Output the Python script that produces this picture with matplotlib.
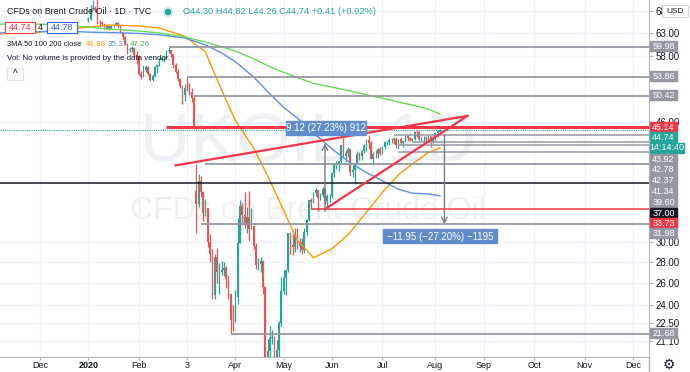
import matplotlib
matplotlib.use('Agg')
import matplotlib.pyplot as plt
from matplotlib.patches import Rectangle, Circle
import numpy as np
import pandas as pd

plt.rcParams['font.family'] = ['Liberation Sans', 'DejaVu Sans']

# trading calendar used by the chart
holidays = ['2019-12-25', '2020-01-01', '2020-04-10']
days = pd.bdate_range('2019-11-01', '2020-12-31')
days = days[~days.isin(pd.to_datetime(holidays))]

def pos(d):
    return int(days.searchsorted(pd.Timestamp(d)))

# daily candles, first bar 2020-01-02, open = previous close unless listed in gap_opens
first_bar = '2020-01-02'
closes = [
    66.25, 68.60, 68.91, 68.27, 65.44, 65.37, 64.98, 64.20, 64.49, 64.00, 64.62, 64.85, 65.20, 64.59, 63.21, 62.04, 60.69, 59.32, 59.51, 59.81, 58.29, 58.16,
    54.45, 53.96, 55.28, 55.93, 54.47, 53.27, 54.01, 55.79, 56.34, 57.32, 57.67, 57.75, 59.12, 59.31, 58.50, 56.30, 54.95, 53.43, 52.18, 50.52,
    51.90, 51.86, 51.13, 49.99, 45.27, 34.36, 37.22, 35.79, 33.22, 33.85, 30.05, 28.73, 24.88, 28.47, 26.98, 27.03, 27.15, 27.39, 26.34, 24.93, 22.76, 22.74,
    24.74, 29.94, 34.11, 33.05, 31.87, 32.84, 31.48, 31.74, 29.60, 27.69, 27.82, 28.08, 25.57, 19.33, 20.37, 21.33, 21.44, 19.99, 20.46, 22.54, 25.27,
    26.44, 27.20, 30.97, 29.72, 29.46, 30.97, 29.63, 29.98, 29.19, 31.13, 32.50, 34.81, 34.65, 35.75, 36.06, 35.13, 35.50, 36.17, 34.74, 35.29, 35.33,
    38.32, 39.57, 39.79, 39.99, 42.30, 40.80, 41.18, 41.73, 38.55, 38.73, 39.72, 40.96, 40.71, 41.51, 42.19, 43.08, 42.63, 40.31, 41.05, 41.02, 41.71, 41.15,
    42.03, 42.80, 42.80, 43.10, 43.08, 43.29, 42.35, 43.24, 42.72, 42.90, 43.79, 43.37, 43.14, 43.28, 44.32, 44.29, 43.31, 43.34, 43.41, 43.22, 43.75, 42.94, 43.30,
    44.15, 44.43, 44.74]
highs = [
    66.6, 69.5, 70.7, 69.3, 71.7, 66.0, 65.8, 65.0, 64.8, 64.6, 64.9, 65.1, 65.6, 65.4, 64.8, 63.4, 62.4, 60.8, 60.0, 60.1, 60.0, 59.0,
    58.2, 55.1, 56.2, 56.2, 56.0, 54.6, 54.4, 56.0, 56.5, 57.6, 57.8, 58.0, 59.3, 59.98, 59.4, 58.5, 56.7, 55.4, 53.8, 52.3,
    52.6, 53.86, 52.7, 51.8, 50.42, 39.6, 38.2, 37.9, 36.0, 35.0, 33.9, 30.9, 29.3, 28.8, 29.4, 27.9, 28.1, 28.0, 27.6, 26.7, 25.0, 24.0,
    25.3, 32.7, 34.9, 34.5, 35.8, 34.0, 36.0, 33.9, 31.8, 29.9, 28.4, 28.5, 28.2, 25.7, 21.3, 22.3, 22.0, 21.5, 21.2, 22.7, 26.5,
    27.2, 27.2, 31.0, 31.1, 30.9, 31.5, 31.5, 30.5, 30.5, 31.5, 32.6, 34.9, 35.1, 35.9, 36.4, 36.1, 35.7, 36.5, 36.4, 35.6, 35.6,
    38.5, 39.7, 40.0, 40.0, 42.4, 43.4, 41.6, 42.0, 41.8, 39.5, 39.8, 41.5, 41.3, 41.6, 42.5, 43.2, 43.9, 43.0, 41.3, 41.6, 41.9, 42.0,
    42.2, 43.0, 43.0, 43.4, 43.4, 43.5, 43.6, 43.3, 43.6, 43.0, 43.9, 43.9, 43.6, 43.4, 44.5, 44.6, 44.5, 43.6, 43.7, 43.7, 43.9, 43.8, 43.5,
    44.2, 44.6, 44.82]
lows = [
    65.6, 66.0, 68.3, 67.8, 65.0, 64.3, 64.7, 63.8, 63.9, 63.6, 63.9, 64.3, 64.6, 64.2, 63.0, 61.6, 60.4, 58.5, 58.8, 58.9, 57.9, 56.5,
    54.2, 53.5, 53.9, 54.8, 54.3, 53.1, 53.2, 53.9, 54.7, 56.1, 57.0, 56.9, 57.6, 58.6, 57.9, 55.6, 54.6, 53.2, 51.8, 48.9,
    49.5, 51.3, 50.6, 49.4, 45.14, 31.0, 34.0, 35.2, 32.3, 32.9, 29.5, 28.0, 24.5, 24.5, 26.0, 25.0, 26.7, 26.6, 25.5, 24.5, 21.68, 21.9,
    22.6, 24.1, 29.9, 31.9, 31.5, 31.0, 30.1, 31.4, 29.3, 27.3, 27.2, 27.0, 25.0, 18.7, 15.98, 19.9, 20.9, 19.8, 19.5, 19.6, 22.3,
    25.0, 24.9, 27.0, 28.8, 28.7, 29.0, 29.3, 29.0, 28.8, 28.9, 30.8, 32.4, 33.9, 34.5, 35.3, 33.5, 34.9, 35.2, 34.3, 33.8, 34.6,
    35.1, 37.8, 38.9, 38.6, 39.8, 40.5, 39.9, 40.6, 38.0, 37.8, 36.9, 39.6, 40.1, 40.2, 41.2, 41.5, 41.8, 40.3, 39.5, 40.5, 40.4, 40.9,
    41.0, 41.8, 42.4, 42.4, 42.6, 42.5, 41.9, 41.8, 42.5, 42.1, 42.8, 43.0, 43.0, 42.8, 43.1, 43.6, 43.1, 42.9, 42.9, 42.8, 42.9, 42.0, 42.7,
    43.1, 43.6, 44.26]
gap_opens = {'2020-01-02': 66.0, '2020-03-09': 36.0, '2020-08-05': 44.30}

# moving averages
ma_dates = ['2019-11-06', '2019-12-02', '2019-12-16', '2020-01-02', '2020-01-15', '2020-02-03', '2020-02-14', '2020-03-02',
            '2020-03-13', '2020-03-24', '2020-04-01', '2020-04-14', '2020-04-22', '2020-05-01', '2020-05-11', '2020-05-20',
            '2020-06-01', '2020-06-10', '2020-06-19', '2020-07-01', '2020-07-10', '2020-07-20', '2020-07-29', '2020-08-05']
ma50 = [62.8, 63.2, 63.7, 64.35, 64.8, 64.6, 64.1, 62.3, 58.9, 51.5, 46.2, 41.9, 38.0, 33.6, 30.2, 28.4,
        29.3, 30.8, 33.0, 35.8, 38.1, 39.6, 41.25, 41.88]
ma100 = [63.0, 63.3, 63.45, 63.2, 63.1, 62.9, 62.6, 61.9, 60.4, 58.7, 56.9, 53.9, 51.2, 48.4, 46.6, 44.2,
         41.8, 40.0, 38.6, 37.3, 36.2, 35.7, 35.6, 35.37]
ma200 = [65.0, 65.0, 64.8, 64.35, 63.9, 63.45, 63.0, 62.1, 61.0, 60.0, 59.1, 57.5, 56.1, 54.8, 53.8, 52.7,
         52.0, 51.4, 50.7, 50.0, 49.3, 48.8, 48.1, 47.26]

# drawn horizontal levels: price, start date (None = full width), colour, width
levels = [59.98, 53.86, 50.42, 45.14, 43.92, 42.78, 42.37, 41.34, 39.60, 37.00, 33.73, 31.98, 21.68]
level_start = ['2020-02-20', '2020-03-03', '2020-03-06', '2020-02-19', '2020-07-08', '2020-07-20', '2020-07-10',
               '2020-07-10', '2020-03-13', None, '2020-05-19', '2020-03-11', '2020-03-30']
level_color = ['#9598a1'] * 3 + ['#f23645'] + ['#9598a1'] * 5 + ['#131722', '#f23645', '#9598a1', '#9598a1']
level_lw = [1.3, 1.3, 1.3, 2.2, 1.1, 1.1, 1.1, 1.1, 1.3, 1.1, 1.1, 1.3, 1.3]

# rising wedge (date, price)
wedge_upper = [('2020-02-25', 39.4), ('2020-08-21', 46.95)]
wedge_lower = [('2020-05-27', 33.73), ('2020-08-21', 46.95)]

# price range measurements
measures = [('2020-05-27', 33.49, 42.61, '9.12 (27.23%) 912'),
            ('2020-08-07', 43.92, 31.97, '\u221211.95 (\u221227.20%) \u22121195')]

month_ticks = ['2019-12-02', '2020-01-02', '2020-02-03', '2020-03-03', '2020-04-01', '2020-05-01', '2020-06-01',
               '2020-07-01', '2020-08-03', '2020-09-01', '2020-10-01', '2020-11-02', '2020-12-01']
month_labels = ['Dec', '2020', 'Feb', '3', 'Apr', 'May', 'Jun', 'Jul', 'Aug', 'Sep', 'Oct', 'Nov', 'Dec']
price_ticks = [21.10, 22.50, 24.00, 26.00, 28.00, 30.00, 46.00, 58.00, 63.00, 68.00]

UP, DN = '#26a69a', '#ef5350'
W, H = 690, 372
PW, PH = 649, 357
px_per_bar = 2.298

fig = plt.figure(figsize=(W / 100, H / 100), dpi=100)
ax = fig.add_axes([0, (H - PH) / H, PW / W, PH / H])
ax.set_yscale('log')
ax.set_ylim(19.97, 70.82)
x0 = pos('2019-12-02')
ax.set_xlim(x0 - 40 / px_per_bar, x0 + (PW - 40) / px_per_bar)

# grid
for d in month_ticks:
    ax.axvline(pos(d), color='#f0f3fa', lw=1, zorder=0)
for p in price_ticks:
    ax.axhline(p, color='#f0f3fa', lw=1, zorder=0)

# watermark
ax.text(0.475, 0.60, 'UKOIL, 1D', transform=ax.transAxes, ha='center', va='center',
        fontsize=50, color='#eef0f3', zorder=0.5)
ax.text(0.475, 0.41, 'CFDs on Brent Crude Oil', transform=ax.transAxes, ha='center', va='center',
        fontsize=23, color='#eef0f3', zorder=0.5)

# candles
n = len(closes)
start = pos(first_bar)
xs = np.arange(start, start + n)
opens = [closes[0]] + closes[:-1]
for i in range(n):
    key = str(days[start + i].date())
    if key in gap_opens:
        opens[i] = gap_opens[key]
o = np.array(opens)
c = np.array(closes)
cols = [UP if c[i] >= o[i] else DN for i in range(n)]
ax.vlines(xs, lows, highs, colors=cols, lw=0.9, zorder=3)
ax.bar(xs, np.abs(c - o), bottom=np.minimum(o, c), width=0.7, color=cols, lw=0, zorder=3)

# moving averages
mx = [pos(d) for d in ma_dates]
ax.plot(mx, ma50, color='#ff9800', lw=1, zorder=4)
ax.plot(mx, ma100, color='#5b8ff0', lw=1, zorder=4)
ax.plot(mx, ma200, color='#66dd55', lw=1, zorder=4)

# levels
xmin, xmax = ax.get_xlim()
for p, s, col, lw in zip(levels, level_start, level_color, level_lw):
    xa = xmin if s is None else pos(s)
    ax.plot([xa, xmax], [p, p], color=col, lw=lw, zorder=5, solid_capstyle='butt')
ax.axhline(closes[-1], color=UP, lw=0.8, ls=(0, (1, 1)), zorder=2)

# wedge
for seg in (wedge_upper, wedge_lower):
    ax.plot([pos(seg[0][0]), pos(seg[1][0])], [seg[0][1], seg[1][1]], color='#f23645', lw=1.6, zorder=6)

# measurements
for d, p0, p1, txt in measures:
    ax.annotate('', xy=(pos(d), p1), xytext=(pos(d), p0),
                arrowprops=dict(arrowstyle='->', color='#787b86', lw=1, shrinkA=0, shrinkB=0), zorder=6)

ax.set_xticks([pos(d) for d in month_ticks])
ax.set_xticklabels(month_labels)
for lab in ax.get_xticklabels():
    if lab.get_text() == '2020':
        lab.set_fontweight('bold')
ax.tick_params(axis='x', length=2, color='#b2b5be', labelsize=6.5, labelcolor='#131722', pad=1)
ax.yaxis.tick_right()
ax.set_yticks(price_ticks)
ax.set_yticklabels(['%.2f' % p for p in price_ticks])
ax.yaxis.set_minor_locator(matplotlib.ticker.NullLocator())
ax.tick_params(axis='y', length=3, color='#b2b5be', labelsize=7, labelcolor='#131722', pad=2)
for s in ['top', 'left']:
    ax.spines[s].set_visible(False)
for s in ['right', 'bottom']:
    ax.spines[s].set_color('#b2b5be')

# overlay in pixel coordinates for labels
ov = fig.add_axes([0, 0, 1, 1], facecolor='none')
ov.set_xlim(0, W)
ov.set_ylim(H, 0)
ov.axis('off')
ov.plot([PW, PW], [PH, H], color='#b2b5be', lw=1)

# price axis label boxes: (text, colour, y pixel)
boxes = [('59.98', '#9598a1', 46), ('53.86', '#9598a1', 76), ('50.42', '#9598a1', 95),
         ('45.14', '#f23645', 126.5), ('44.74', UP, 136.5), ('14:14:40', UP, 147.5),
         ('43.92', '#9598a1', 158.5), ('42.78', '#9598a1', 169), ('42.37', '#9598a1', 180),
         ('41.34', '#9598a1', 191), ('39.60', '#9598a1', 202), ('37.00', '#131722', 212.5),
         ('33.73', '#f23645', 223), ('31.98', '#9598a1', 233), ('21.68', '#9598a1', 333)]
for t, col, y in boxes:
    w = 34 if ':' in t else 27
    ov.add_patch(Rectangle((PW + 1, y - 5), w, 10, color=col, zorder=5))
    ov.text(PW + 1 + w / 2, y + 0.5, t, ha='center', va='center', fontsize=6.5, color='white', zorder=6)

ov.add_patch(Rectangle((662, 5), 26, 12, facecolor='white', edgecolor='#d1d4dc', lw=0.8, zorder=5))
ov.text(675, 11.5, 'USD', ha='center', va='center', fontsize=6, color='#131722', zorder=6)
ov.text(669, 365, '\u2699', ha='center', va='center', fontsize=10, color='#131722')

# measurement labels
for (cx, cy, w), (d, p0, p1, txt) in zip([(326, 127.5, 80), (440, 236, 114)], measures):
    ov.add_patch(Rectangle((cx - w / 2, cy - 7), w, 14, color='#5f8dcc', zorder=5))
    ov.text(cx, cy + 0.5, txt, ha='center', va='center', fontsize=7, color='white', zorder=6)

# legend
ov.text(7, 12, 'CFDs on Brent Crude Oil \u00b7 1D \u00b7 TVC', ha='left', va='center', fontsize=6.4,
        color='#131722')
ov.add_patch(Circle((168, 12), 4.5, color='#c9ece8'))
ov.add_patch(Circle((168, 12), 2.5, color=UP))
ov.text(183, 12, 'O44.30 H44.82 L44.26 C44.74 +0.41 (+0.92%)', ha='left', va='center', fontsize=6.7,
        color=UP)
ov.add_patch(Rectangle((5, 22), 30, 11, facecolor='white', edgecolor='#f23645', lw=0.8))
ov.text(20, 28, '44.74', ha='center', va='center', fontsize=6.5, color='#f23645')
ov.text(40, 28, '4', ha='center', va='center', fontsize=6.5, color='#131722')
ov.add_patch(Rectangle((47, 22), 30, 11, facecolor='white', edgecolor='#2962ff', lw=0.8))
ov.text(62, 28, '44.78', ha='center', va='center', fontsize=6.5, color='#2962ff')
ov.text(7, 44.5, '3MA 50 100 200 close', ha='left', va='center', fontsize=5.4, color='#131722')
ov.text(86, 44.5, '41.88', ha='left', va='center', fontsize=5.8, color='#ff9800')
ov.text(108, 44.5, '35.37', ha='left', va='center', fontsize=5.8, color='#5b8ff0')
ov.text(130, 44.5, '47.26', ha='left', va='center', fontsize=5.8, color='#4caf50')
ov.text(7, 59, 'Vol: No volume is provided by the data vendor.', ha='left', va='center', fontsize=5.7,
        color='#131722')
ov.add_patch(Rectangle((7, 68), 16, 12, facecolor='white', edgecolor='#e0e3eb', lw=0.8))
ov.text(15, 74, '^', ha='center', va='center', fontsize=7, color='#131722')

fig.savefig('out.png', dpi=100)
